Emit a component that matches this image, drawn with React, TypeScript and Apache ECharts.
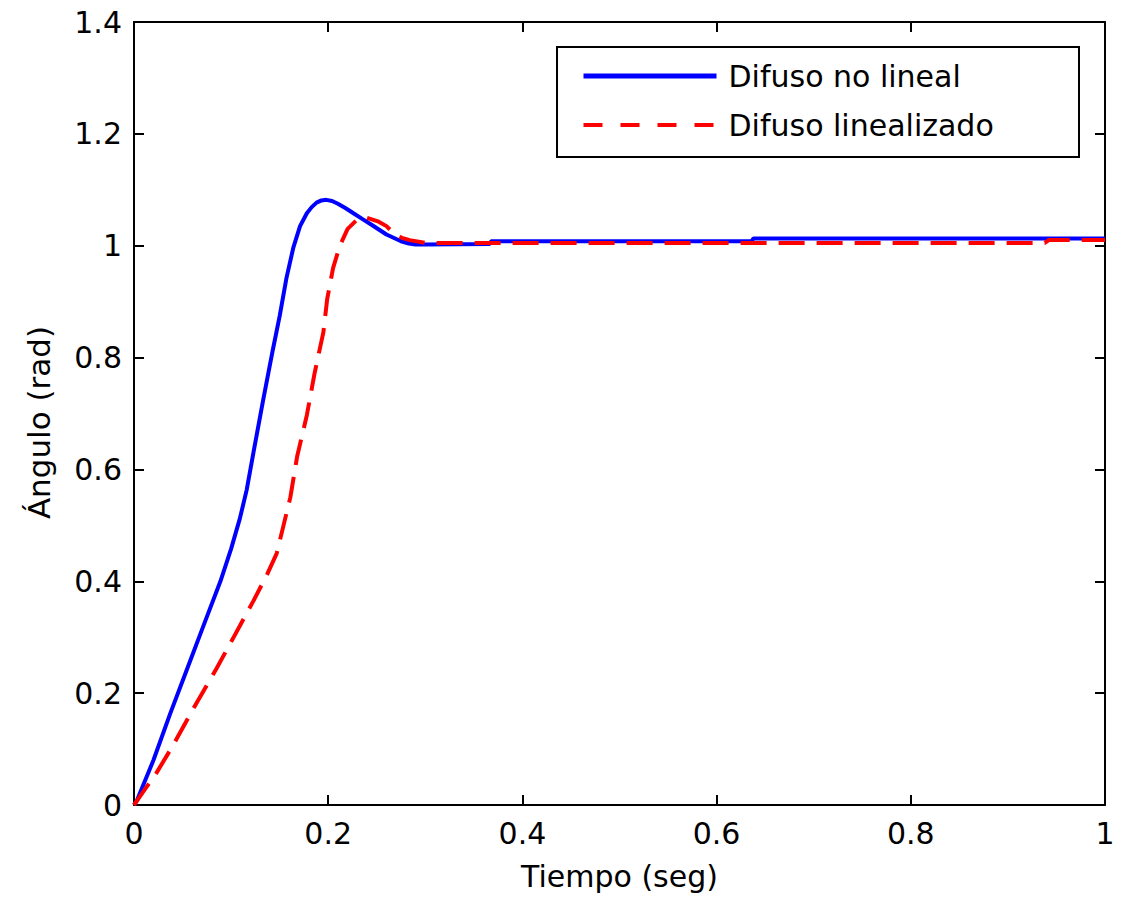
import React, { useEffect, useRef } from "react";
import * as echarts from "echarts";

const xTicks = [0, 0.2, 0.4, 0.6, 0.8, 1];
const yTicks = [0, 0.2, 0.4, 0.6, 0.8, 1, 1.2, 1.4];

const seriesNames = ["Difuso no lineal", "Difuso linealizado"];

// Difuso no lineal (blue, solid)
const tNoLineal = [
  0, 0.003, 0.02, 0.037, 0.054, 0.071, 0.089, 0.1, 0.109, 0.116, 0.123, 0.133, 0.143, 0.15,
  0.157, 0.164, 0.171, 0.178, 0.183, 0.188, 0.193, 0.198, 0.204, 0.21, 0.218, 0.226, 0.235,
  0.245, 0.26, 0.275, 0.283, 0.29, 0.3, 0.366, 0.368, 0.636, 0.638, 1.0,
];
const yNoLineal = [
  0, 0.008, 0.08, 0.162, 0.24, 0.318, 0.4, 0.458, 0.512, 0.563, 0.63, 0.724, 0.814, 0.874,
  0.942, 0.996, 1.035, 1.058, 1.069, 1.077, 1.081, 1.082, 1.08, 1.075, 1.067, 1.058, 1.048,
  1.037, 1.02, 1.008, 1.004, 1.002, 1.002, 1.003, 1.008, 1.008, 1.013, 1.013,
];

// Difuso linealizado (red, dashed)
const tLinealizado = [
  0, 0.006, 0.023, 0.04, 0.061, 0.085, 0.102, 0.123, 0.137, 0.147, 0.154, 0.161, 0.168, 0.178,
  0.186, 0.195, 0.199, 0.205, 0.212, 0.22, 0.23, 0.24, 0.252, 0.26, 0.267, 0.276, 0.284, 0.3,
  0.938, 0.942, 1.0,
];
const yLinealizado = [
  0, 0.015, 0.057, 0.106, 0.172, 0.244, 0.298, 0.365, 0.412, 0.45, 0.5, 0.55, 0.623, 0.697,
  0.772, 0.845, 0.905, 0.96, 1.0, 1.03, 1.047, 1.05, 1.043, 1.035, 1.023, 1.014, 1.01, 1.005,
  1.005, 1.01, 1.01,
];

const FONT = "DejaVu Sans";

export default function App() {
  const ref = useRef<HTMLDivElement>(null);

  useEffect(() => {
    if (!ref.current) return;
    const chart = echarts.init(ref.current, null, { renderer: "svg" });
    const fmt = (v: number) => String(+v.toFixed(1));
    const axisCommon = {
      type: "value" as const,
      axisLine: { show: true, onZero: false, lineStyle: { color: "#000", width: 2 } },
      axisTick: { show: true, inside: true, length: 10, lineStyle: { color: "#000", width: 2 } },
      splitLine: { show: false },
    };
    chart.setOption({
      animation: false,
      backgroundColor: "#fff",
      grid: { left: 134, right: 23, top: 22, bottom: 92 },
      xAxis: [
        {
          ...axisCommon,
          min: xTicks[0],
          max: xTicks[xTicks.length - 1],
          interval: 0.2,
          position: "bottom",
          axisLabel: { color: "#000", fontFamily: FONT, fontSize: 30, margin: 13, formatter: fmt },
          name: "Tiempo (seg)",
          nameLocation: "middle",
          nameGap: 56,
          nameTextStyle: { color: "#000", fontFamily: FONT, fontSize: 30 },
        },
        {
          ...axisCommon,
          min: xTicks[0],
          max: xTicks[xTicks.length - 1],
          interval: 0.2,
          position: "top",
          axisLabel: { show: false },
        },
      ],
      yAxis: [
        {
          ...axisCommon,
          min: yTicks[0],
          max: yTicks[yTicks.length - 1],
          interval: 0.2,
          position: "left",
          axisLabel: { color: "#000", fontFamily: FONT, fontSize: 30, margin: 12, formatter: fmt },
          name: "Ángulo (rad)",
          nameLocation: "middle",
          nameGap: 80,
          nameTextStyle: { color: "#000", fontFamily: FONT, fontSize: 31, padding: [0, 18, 0, 0] },
        },
        {
          ...axisCommon,
          min: yTicks[0],
          max: yTicks[yTicks.length - 1],
          interval: 0.2,
          position: "right",
          axisLabel: { show: false },
        },
      ],
      graphic: [
        {
          type: "rect",
          z: 0,
          shape: { x: 557, y: 47, width: 522, height: 110 },
          style: { fill: "#fff", stroke: "#000", lineWidth: 2 },
        },
      ],
      legend: {
        orient: "vertical",
        left: 581,
        top: 61,
        z: 10,
        padding: 0,
        itemWidth: 133,
        itemHeight: 20,
        itemGap: 19,
        itemStyle: { opacity: 0 },
        lineStyle: { width: 4 },
        textStyle: { color: "#000", fontFamily: FONT, fontSize: 30, lineHeight: 30, padding: [0, 0, 0, 7] },
        data: [
          { name: seriesNames[0], itemStyle: { opacity: 0 }, lineStyle: { width: 5 } },
          { name: seriesNames[1], itemStyle: { opacity: 0 }, lineStyle: { width: 4, type: [19, 18] } },
        ],
      },
      series: [
        {
          name: seriesNames[0],
          type: "line",
          xAxisIndex: 0,
          yAxisIndex: 0,
          symbol: "none",
          showSymbol: false,
          lineStyle: { color: "#0000ff", width: 4 },
          itemStyle: { color: "#0000ff" },
          data: tNoLineal.map((t, i) => [t, yNoLineal[i]]),
          z: 2,
        },
        {
          name: seriesNames[1],
          type: "line",
          xAxisIndex: 0,
          yAxisIndex: 0,
          symbol: "none",
          showSymbol: false,
          lineStyle: { color: "#ff0000", width: 4, type: [26, 12] },
          itemStyle: { color: "#ff0000" },
          data: tLinealizado.map((t, i) => [t, yLinealizado[i]]),
          z: 3,
        },
      ],
    });
    return () => chart.dispose();
  }, []);

  return (
    <div
      ref={ref}
      style={{ position: "absolute", left: 0, top: 0, width: 1128, height: 897 }}
    />
  );
}
